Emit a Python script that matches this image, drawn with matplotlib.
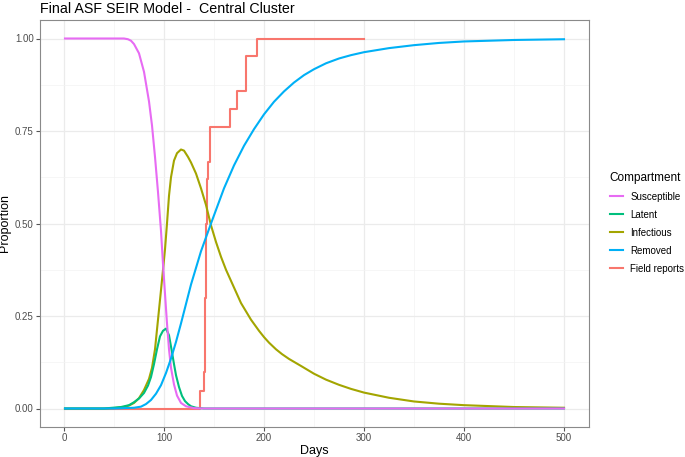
import matplotlib
matplotlib.use("Agg")
import matplotlib.pyplot as plt
from matplotlib.ticker import MultipleLocator

plt.rcParams['font.family'] = ['Liberation Sans', 'DejaVu Sans']

# values
sus_days = [1, 30, 60, 64, 67, 70, 75, 80, 85, 88, 91, 94, 97, 99, 101, 103, 105, 107,
            110, 113, 117, 122, 130, 140, 200, 300, 400, 500]
sus_vals = [1.0, 1.0, 1.0, 0.998, 0.994, 0.985, 0.96, 0.91, 0.83, 0.765, 0.68, 0.585,
            0.48, 0.39, 0.31, 0.23, 0.16, 0.11, 0.065, 0.035, 0.015, 0.006, 0.001,
            0.0, 0.0, 0.0, 0.0, 0.0]

lat_days = [1, 40, 57, 65, 70, 75, 80, 84, 87, 90, 93, 96, 99, 102, 105, 108, 110,
            112, 115, 118, 121, 124, 127, 132, 140, 200, 300, 400, 500]
lat_vals = [0.0, 0.0, 0.004, 0.009, 0.017, 0.027, 0.042, 0.062, 0.085, 0.12, 0.16,
            0.195, 0.21, 0.216, 0.198, 0.152, 0.12, 0.09, 0.058, 0.034, 0.02, 0.012,
            0.006, 0.002, 0.0, 0.0, 0.0, 0.0, 0.0]

inf_days = [1, 40, 50, 60, 65, 70, 75, 80, 85, 88, 91, 94, 97, 99, 101, 103, 105,
            107, 110, 113, 117, 120, 124, 127, 132, 137, 142, 147, 152, 157, 162,
            167, 177, 187, 195, 200, 205, 212, 218, 225, 237, 250, 262, 275, 287,
            300, 325, 350, 375, 400, 450, 500]
inf_vals = [0.0, 0.0, 0.001, 0.004, 0.008, 0.015, 0.028, 0.05, 0.08, 0.11, 0.16, 0.24,
            0.32, 0.375, 0.43, 0.5, 0.575, 0.625, 0.67, 0.69, 0.70, 0.697, 0.68,
            0.665, 0.635, 0.595, 0.55, 0.495, 0.45, 0.41, 0.375, 0.345, 0.285, 0.24,
            0.21, 0.193, 0.178, 0.16, 0.147, 0.134, 0.115, 0.094, 0.078, 0.064,
            0.053, 0.043, 0.029, 0.019, 0.013, 0.009, 0.004, 0.002]

rem_days = [1, 50, 60, 70, 77, 82, 87, 92, 97, 102, 107, 112, 117, 127, 137, 147,
            150, 160, 170, 180, 190, 200, 210, 220, 230, 240, 250, 262, 275, 287,
            300, 325, 350, 375, 400, 450, 500]
rem_vals = [0.0, 0.0, 0.001, 0.002, 0.005, 0.012, 0.023, 0.04, 0.063, 0.096, 0.135,
            0.18, 0.23, 0.335, 0.425, 0.50, 0.522, 0.595, 0.657, 0.71, 0.755, 0.795,
            0.829, 0.857, 0.881, 0.901, 0.917, 0.933, 0.946, 0.955, 0.963, 0.974,
            0.982, 0.988, 0.992, 0.996, 0.998]

fld_days = [1, 136, 140, 141, 142, 143, 144, 146, 166, 173, 182, 193, 300]
fld_vals = [0.0, 0.048, 0.10, 0.30, 0.50, 0.62, 0.667, 0.762, 0.810, 0.857, 0.952,
            1.0, 1.0]

labels = ['Susceptible', 'Latent', 'Infectious', 'Removed', 'Field reports']
colors = ['#E76BF3', '#00BF7D', '#A3A500', '#00B0F6', '#F8766D']

fig = plt.figure(figsize=(6.85, 4.57), dpi=100)
ax = fig.add_axes([40 / 685, 1 - 427 / 457, 549 / 685, 407 / 457])

lw = 1.5
h_fld, = ax.plot(fld_days, fld_vals, color=colors[4], lw=lw, drawstyle='steps-post', zorder=2)
h_inf, = ax.plot(inf_days, inf_vals, color=colors[2], lw=lw, zorder=3)
h_lat, = ax.plot(lat_days, lat_vals, color=colors[1], lw=lw, zorder=4)
h_sus, = ax.plot(sus_days, sus_vals, color=colors[0], lw=lw, zorder=5)
h_rem, = ax.plot(rem_days, rem_vals, color=colors[3], lw=lw, zorder=6)

ax.set_xlim(-24, 525)
ax.set_ylim(-0.05, 1.05)
ax.xaxis.set_major_locator(MultipleLocator(100))
ax.xaxis.set_minor_locator(MultipleLocator(50))
ax.yaxis.set_minor_locator(MultipleLocator(0.125))
ax.set_yticks([0, 0.25, 0.5, 0.75, 1.0])
ax.set_yticklabels(['0.00', '0.25', '0.50', '0.75', '1.00'])

ax.grid(which='major', color='#EBEBEB', lw=0.9)
ax.grid(which='minor', color='#F3F3F3', lw=0.5)
ax.set_axisbelow(True)
for s in ax.spines.values():
    s.set_color('#8A8A8A')
    s.set_linewidth(0.8)
ax.tick_params(which='major', length=3, width=0.8, color='#555555',
               labelsize=7, labelcolor='#4D4D4D', pad=1.5)
ax.tick_params(which='minor', length=0)

ax.set_xlabel('Days', fontsize=9, labelpad=1)
ax.set_ylabel('Proportion', fontsize=9, labelpad=3)

fig.text(40 / 685, 1 - 9 / 457, 'Final ASF SEIR Model -  Central Cluster',
         fontsize=10.3, va='center', ha='left')

leg = ax.legend([h_sus, h_lat, h_inf, h_rem, h_fld], labels, title='Compartment',
                loc='upper left', bbox_to_anchor=(601 / 685, 1 - 163 / 457),
                bbox_transform=fig.transFigure, frameon=False, fontsize=7,
                title_fontsize=8.5, handlelength=1.4, handletextpad=0.7,
                labelspacing=0.82, alignment='left')

fig.savefig('out.png', dpi=100)
